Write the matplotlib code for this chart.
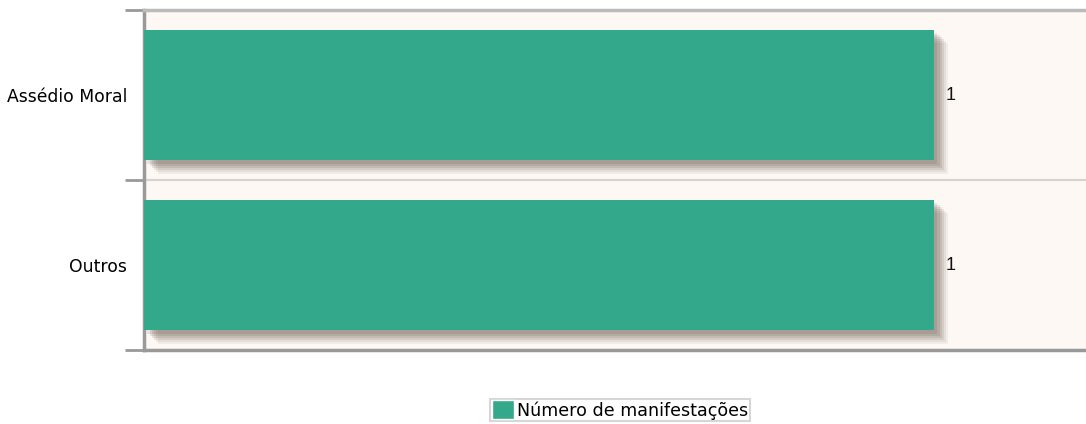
import numpy as np
import matplotlib
matplotlib.use("Agg")
import matplotlib.pyplot as plt
import matplotlib.patheffects as pe
from matplotlib.patches import Patch

categorias = ["Assédio Moral", "Outros"]
valores = [1, 1]
serie = "Número de manifestações"

cor = "#33a88a"

fig = plt.figure(figsize=(10.86, 4.24), dpi=100)
ax = fig.add_axes([144/1086, 1-350/424, 1-144/1086, 340/424])
ax.set_facecolor("#fdf8f4")

y = np.arange(len(categorias))[::-1]
sombra = [pe.SimplePatchShadow(offset=(o, -o), shadow_rgbFace="#4a3a30", alpha=a)
          for o, a in [(10, 0.06), (8.5, 0.08), (7, 0.1), (5.5, 0.12), (4, 0.12), (2.5, 0.12)]]
barras = ax.barh(y, valores, height=0.77, color=cor, zorder=3,
                 path_effects=sombra + [pe.Normal()])

for yi, v in zip(y, valores):
    ax.text(v + 0.015, yi, str(v), va="center", ha="left", fontsize=13,
            family="Liberation Sans", color="#111111", zorder=4)

ax.set_xlim(0, 942/790)
ax.set_ylim(-0.5, len(categorias) - 0.5)
ax.set_yticks(y)
ax.set_yticklabels(categorias, fontsize=12.4, family="DejaVu Sans")
ax.tick_params(axis="y", which="major", length=0, pad=12)
ax.set_yticks(np.arange(len(categorias) + 1) - 0.5, minor=True)
ax.tick_params(axis="y", which="minor", length=14, width=2, color="#999999")
ax.set_xticks([])
ax.grid(axis="y", which="minor", color="#d6d3d0", linewidth=1.5, zorder=1)

ax.spines["right"].set_visible(False)
ax.spines["top"].set_color("#bbbbbb")
ax.spines["top"].set_linewidth(2.5)
ax.spines["left"].set_color("#999999")
ax.spines["left"].set_linewidth(2.5)
ax.spines["bottom"].set_color("#999999")
ax.spines["bottom"].set_linewidth(2.5)

handle = Patch(facecolor=cor, edgecolor="#ffffff", linewidth=1)
leg = fig.legend([handle], [serie], loc="center", bbox_to_anchor=(620/1086, 1-410/424),
                 frameon=True, fancybox=False, fontsize=12.6, handlelength=1.25,
                 handleheight=1.25, handletextpad=0.15, borderpad=0.1, borderaxespad=0)
leg.get_frame().set_edgecolor("#cccccc")
leg.get_frame().set_linewidth(1.5)

fig.savefig("out.png", dpi=100)
